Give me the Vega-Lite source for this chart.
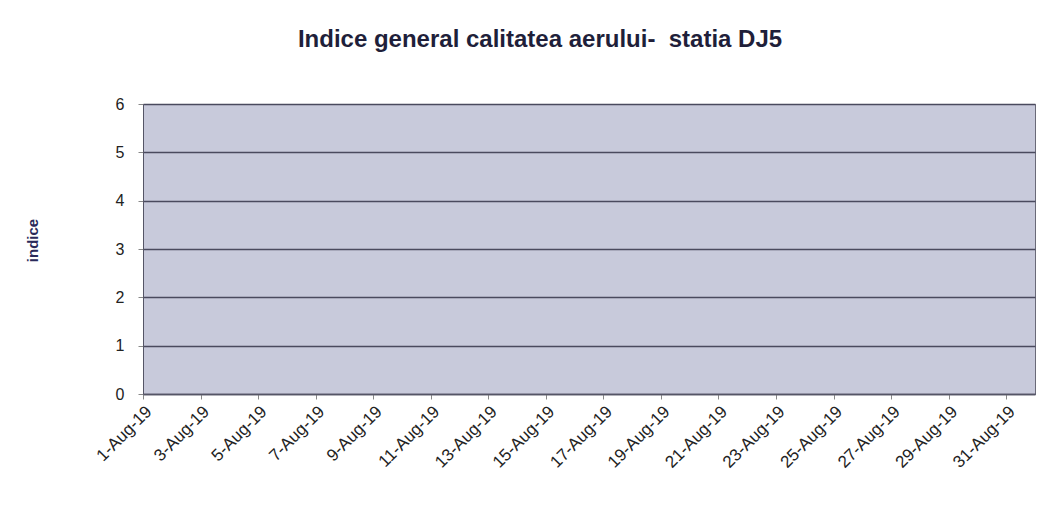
{
  "$schema": "https://vega.github.io/schema/vega-lite/v6.json",
  "autosize": {"type": "none"},
  "width": 892,
  "height": 290,
  "padding": {"left": 143, "top": 104, "right": 21, "bottom": 121},
  "background": "white",
  "title": {
    "text": "Indice general calitatea aerului-\u00a0 statia DJ5",
    "font": "Liberation Sans",
    "fontSize": 24,
    "fontWeight": "bold",
    "color": "#1f1f3a",
    "anchor": "middle",
    "dx": -49,
    "offset": 44
  },
  "config": {
    "view": {"fill": "#c8cadb", "stroke": "#6a6a78", "strokeWidth": 1},
    "font": "Liberation Sans"
  },
  "data": {
    "values": [
      {"data": "2019-08-01", "indice": null},
      {"data": "2019-08-02", "indice": null},
      {"data": "2019-08-03", "indice": null},
      {"data": "2019-08-04", "indice": null},
      {"data": "2019-08-05", "indice": null},
      {"data": "2019-08-06", "indice": null},
      {"data": "2019-08-07", "indice": null},
      {"data": "2019-08-08", "indice": null},
      {"data": "2019-08-09", "indice": null},
      {"data": "2019-08-10", "indice": null},
      {"data": "2019-08-11", "indice": null},
      {"data": "2019-08-12", "indice": null},
      {"data": "2019-08-13", "indice": null},
      {"data": "2019-08-14", "indice": null},
      {"data": "2019-08-15", "indice": null},
      {"data": "2019-08-16", "indice": null},
      {"data": "2019-08-17", "indice": null},
      {"data": "2019-08-18", "indice": null},
      {"data": "2019-08-19", "indice": null},
      {"data": "2019-08-20", "indice": null},
      {"data": "2019-08-21", "indice": null},
      {"data": "2019-08-22", "indice": null},
      {"data": "2019-08-23", "indice": null},
      {"data": "2019-08-24", "indice": null},
      {"data": "2019-08-25", "indice": null},
      {"data": "2019-08-26", "indice": null},
      {"data": "2019-08-27", "indice": null},
      {"data": "2019-08-28", "indice": null},
      {"data": "2019-08-29", "indice": null},
      {"data": "2019-08-30", "indice": null},
      {"data": "2019-08-31", "indice": null}
    ]
  },
  "mark": {"type": "line", "color": "#1f1f6a", "strokeWidth": 2},
  "encoding": {
    "x": {
      "field": "data",
      "type": "temporal",
      "scale": {"type": "utc", "domain": [{"year": 2019, "month": 8, "date": 1, "utc": true}, {"year": 2019, "month": 9, "date": 1, "utc": true}]},
      "axis": {
        "title": null,
        "values": [
          {"year": 2019, "month": 8, "date": 1, "utc": true},
          {"year": 2019, "month": 8, "date": 3, "utc": true},
          {"year": 2019, "month": 8, "date": 5, "utc": true},
          {"year": 2019, "month": 8, "date": 7, "utc": true},
          {"year": 2019, "month": 8, "date": 9, "utc": true},
          {"year": 2019, "month": 8, "date": 11, "utc": true},
          {"year": 2019, "month": 8, "date": 13, "utc": true},
          {"year": 2019, "month": 8, "date": 15, "utc": true},
          {"year": 2019, "month": 8, "date": 17, "utc": true},
          {"year": 2019, "month": 8, "date": 19, "utc": true},
          {"year": 2019, "month": 8, "date": 21, "utc": true},
          {"year": 2019, "month": 8, "date": 23, "utc": true},
          {"year": 2019, "month": 8, "date": 25, "utc": true},
          {"year": 2019, "month": 8, "date": 27, "utc": true},
          {"year": 2019, "month": 8, "date": 29, "utc": true},
          {"year": 2019, "month": 8, "date": 31, "utc": true}
        ],
        "labelExpr": "utcFormat(datum.value, '%-d-%b-%y')",
        "labelAngle": -45,
        "labelAlign": "right",
        "labelBaseline": "top",
        "labelFontSize": 17,
        "labelColor": "#222222",
        "labelPadding": 4,
        "labelOverlap": false,
        "grid": false,
        "tickColor": "#888888",
        "tickSize": 5,
        "domainColor": "#555566",
        "domainWidth": 1.5
      }
    },
    "y": {
      "field": "indice",
      "type": "quantitative",
      "scale": {"domain": [0, 6], "nice": false},
      "axis": {
        "title": "indice",
        "titleFont": "Liberation Sans",
        "titleFontSize": 15,
        "titleFontWeight": "bold",
        "titleColor": "#2a2a5a",
        "titleX": -111,
        "titleY": 136,
        "titleAngle": -90,
        "titleAlign": "center",
        "titleBaseline": "middle",
        "values": [0, 1, 2, 3, 4, 5, 6],
        "labelFontSize": 16,
        "labelColor": "#222222",
        "labelPadding": 14,
        "grid": true,
        "gridColor": "#4a4a5e",
        "gridWidth": 1.4,
        "gridOpacity": 1,
        "tickColor": "#888888",
        "tickSize": 5,
        "domainColor": "#555566"
      }
    }
  }
}
